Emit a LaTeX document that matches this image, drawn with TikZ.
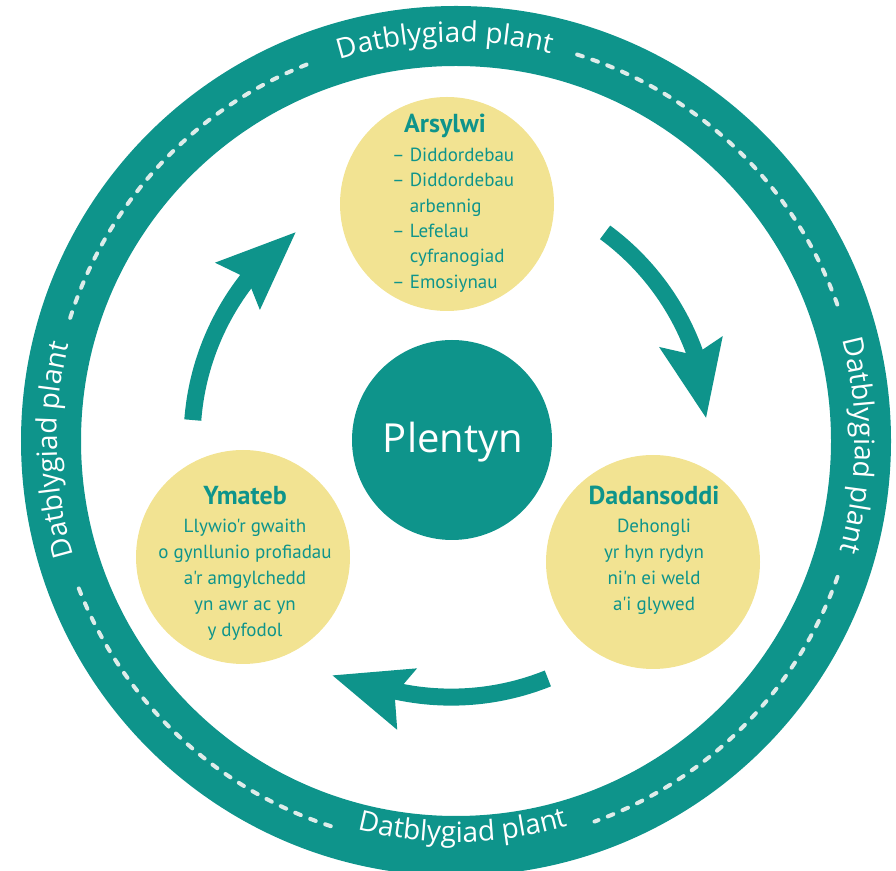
\documentclass[tikz,border=0pt]{standalone}
\usepackage{fontspec}
\usetikzlibrary{decorations.text}
\newfontfamily\ringfont{Open Sans}
\newfontfamily\bodyfont{PT Sans}[Ligatures=TeXOff]
\definecolor{tealc}{RGB}{14,148,139}
\definecolor{yellowc}{RGB}{242,227,146}
\definecolor{dashc}{RGB}{222,236,234}
\begin{document}
\begin{tikzpicture}[x=1pt,y=1pt,
  ringband/.style={draw=tealc, line width=60pt},
  dashring/.style={draw=dashc, line width=4pt, line cap=round, dash pattern=on 6pt off 10pt},
  ringtext/.style={decorate, decoration={text along path, text align=center, text color=white,
     text={|\ringfont\fontsize{28}{28}\selectfont|#1}}},
  stagecircle/.style={circle, fill=yellowc, minimum size=214pt, inner sep=0pt},
  centrecircle/.style={circle, fill=tealc, minimum size=200pt, inner sep=0pt},
  title/.style={text=tealc, font=\bodyfont\bfseries\fontsize{26}{26}\selectfont, inner sep=0pt, anchor=base},
  body/.style={text=tealc, font=\bodyfont\fontsize{19}{19}\selectfont, inner sep=0pt, anchor=base},
  bodyl/.style={body, anchor=base west},
  shaft/.style={draw=tealc, line width=17pt},
  head/.style={fill=tealc}
]
\useasboundingbox (0,0) rectangle (896,870);
\coordinate (rc) at (456,429);
\coordinate (ac) at (452,430);

% outer ring
\draw[ringband] (rc) circle[radius=405];
\draw[dashring] ([shift={(rc)}]72.6:405) arc[start angle=72.6, end angle=18.4, radius=405];
\draw[dashring] ([shift={(rc)}]162.3:405) arc[start angle=162.3, end angle=110.6, radius=405];
\draw[dashring] ([shift={(rc)}]252:405) arc[start angle=252, end angle=200.3, radius=405];
\draw[dashring] ([shift={(rc)}]340.4:405) arc[start angle=340.4, end angle=290, radius=405];

% ring texts
\path[ringtext={Datblygiad plant}] ([shift={(rc)}]121.6:399) arc[start angle=121.6, end angle=61.6, radius=399];
\path[ringtext={Datblygiad plant}] ([shift={(rc)}]211.3:399) arc[start angle=211.3, end angle=151.3, radius=399];
\path[ringtext={Datblygiad plant}] ([shift={(rc)}]29.4:399) arc[start angle=29.4, end angle=-30.6, radius=399];
\path[ringtext={Datblygiad plant}] ([shift={(rc)}]241:401) arc[start angle=241, end angle=301, radius=401];

% circles
\node[stagecircle] (arsylwi) at (447,666) {};
\node[stagecircle] (ymateb) at (243,313) {};
\node[stagecircle] (dadan) at (653,308) {};
\node[centrecircle] (plentyn) at (452,430) {};
\node[text=white, font=\ringfont\fontsize{40}{40}\selectfont, inner sep=0pt, anchor=base] (plentyntxt) at (453,417) {Plentyn};

% Arsylwi text
\node[title] (t1) at (445,737) {Arsylwi};
\node[bodyl] (a1) at (392,708.3) {– Diddordebau};
\node[bodyl] (a2) at (392,683.0) {– Diddordebau};
\node[bodyl] (a3) at (392,657.7) {\hphantom{– }arbennig};
\node[bodyl] (a4) at (392,632.4) {– Lefelau};
\node[bodyl] (a5) at (392,607.1) {\hphantom{– }cyfranogiad};
\node[bodyl] (a6) at (392,581.8) {– Emosiynau};

% Ymateb text
\node[title] (t2) at (245,365) {Ymateb};
\node[body] (y1) at (245,337.5) {Llywio'r gwaith};
\node[body] (y2) at (245,311.5) {o gynllunio profiadau};
\node[body] (y3) at (245,285.5) {a'r amgylchedd};
\node[body] (y4) at (245,259.5) {yn awr ac yn};
\node[body] (y5) at (245,233.5) {y dyfodol};

% Dadansoddi text
\node[title] (t3) at (654,365) {Dadansoddi};
\node[body] (d1) at (654,337.5) {Dehongli};
\node[body] (d2) at (654,311.5) {yr hyn rydyn};
\node[body] (d3) at (654,285.5) {ni'n ei weld};
\node[body] (d4) at (654,259.5) {a'i glywed};

% arrows
\draw[shaft] ([shift={(ac)}]53.6:258) arc[start angle=53.6, end angle=16.5, radius=258];
\fill[head] ([shift={(ac)}]5:255) -- ([shift={(ac)}]21:290) -- ([shift={(ac)}]19.3:257) -- ([shift={(ac)}]24.2:227) -- cycle;

\draw[shaft] ([shift={(ac)}]291.9:257) arc[start angle=291.9, end angle=254.5, radius=259];
\fill[head] ([shift={(ac)}]243.1:264) -- ([shift={(ac)}]261.3:231) -- ([shift={(ac)}]257.3:261) -- ([shift={(ac)}]259.3:295) -- cycle;

\draw[shaft] ([shift={(ac)}]175.6:260) arc[start angle=175.6, end angle=139, radius=260];
\fill[head] ([shift={(ac)}]127:260) -- ([shift={(ac)}]143.2:296) -- ([shift={(ac)}]141.7:261) -- ([shift={(ac)}]145.9:232) -- cycle;
\end{tikzpicture}
\end{document}
